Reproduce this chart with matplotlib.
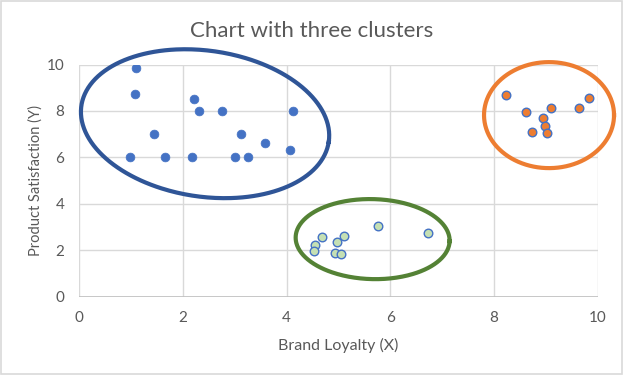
import numpy as np
import matplotlib
matplotlib.use("Agg")
import matplotlib.pyplot as plt
from matplotlib.patches import Rectangle

# ---- data ----
blue_x = [1.10, 1.08, 2.22, 2.32, 2.76, 4.12, 1.45, 3.12, 3.58, 4.07, 0.98, 1.65, 2.17, 3.00, 3.25]
blue_y = [9.84, 8.72, 8.52, 8.00, 8.00, 8.00, 7.00, 7.00, 6.63, 6.30, 6.00, 6.00, 6.00, 6.00, 6.00]
green_x = [4.68, 4.54, 4.53, 5.10, 4.98, 4.93, 5.05, 5.76, 6.72]
green_y = [2.57, 2.24, 1.98, 2.60, 2.35, 1.89, 1.84, 3.06, 2.74]
orange_x = [8.24, 8.61, 9.10, 9.63, 9.84, 8.95, 8.99, 9.02, 8.73]
orange_y = [8.69, 7.96, 8.11, 8.13, 8.57, 7.70, 7.36, 7.03, 7.09]
ticks = [0, 2, 4, 6, 8, 10]

title = "Chart with three clusters"
xlabel = "Brand Loyalty (X)"
ylabel = "Product Satisfaction (Y)"

plt.rcParams['font.family'] = ['Lato', 'DejaVu Sans']
grey_txt = "#595959"

fig = plt.figure(figsize=(6.24, 3.75), dpi=100)
ax = fig.add_axes([0.1266, 0.2088, 0.958 - 0.1266, 0.828 - 0.2088])
ax.set_xlim(0, 10)
ax.set_ylim(0, 10)
ax.set_xticks(ticks)
ax.set_yticks(ticks)
ax.grid(True, color="#D9D9D9", lw=1.0)
ax.set_axisbelow(True)
for s in ax.spines.values():
    s.set_visible(False)
ax.axhline(0, color="#BFBFBF", lw=1.2, zorder=1)
ax.tick_params(length=0, labelsize=11, colors=grey_txt)
ax.tick_params(axis='x', pad=10.5)
ax.tick_params(axis='y', pad=10.5)

ax.scatter(blue_x, blue_y, s=40, color="#4472C4", edgecolors="#4472C4", lw=0.5, zorder=3)
ax.scatter(green_x, green_y, s=38, color="#C5E0B4", edgecolors="#4472C4", lw=1.0, zorder=3)
ax.scatter(orange_x, orange_y, s=38, color="#ED7D31", edgecolors="#4472C4", lw=1.0, zorder=3)

# ellipse outlines (shape in pixel units, placed in data coords)
bb = ax.get_window_extent()
sx = bb.width / 10.0
sy = bb.height / 10.0
t = np.linspace(0, 2 * np.pi, 400)

def ring(cx, cy, a, b, phi, color):
    p = np.deg2rad(phi)
    px = a * np.cos(t) * np.cos(p) - b * np.sin(t) * np.sin(p)
    py = a * np.cos(t) * np.sin(p) + b * np.sin(t) * np.cos(p)
    ax.plot(cx + px / sx, cy + py / sy, color=color, lw=3.0, clip_on=False, zorder=4)

ring(2.43, 7.45, 125, 73, -8.3, "#2F5597")
ring(5.66, 2.48, 77, 40, -1.5, "#548235")
ring(9.06, 7.82, 65, 53, 0, "#ED7D31")

ax.set_title(title, fontsize=16, color=grey_txt, pad=20, x=0.449)
ax.set_xlabel(xlabel, fontsize=11.5, color=grey_txt, labelpad=9)
ax.set_ylabel(ylabel, fontsize=10.5, color=grey_txt, labelpad=3)

fig.patches.append(Rectangle((0.002, 0.003), 0.995, 0.994, transform=fig.transFigure,
                             fill=False, edgecolor="#D9D9D9", lw=1.2))

fig.savefig("out.png", dpi=100)
